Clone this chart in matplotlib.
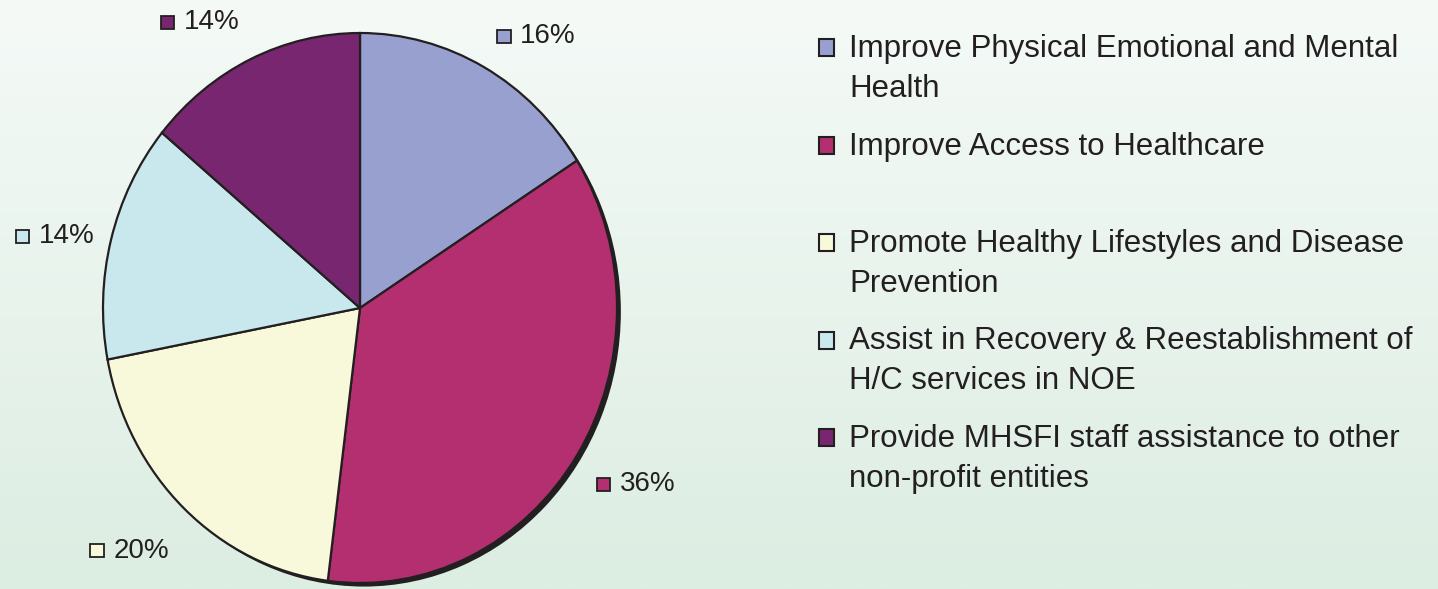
import numpy as np
import matplotlib
matplotlib.use("Agg")
import matplotlib.pyplot as plt
from matplotlib.patches import Rectangle
from matplotlib.offsetbox import DrawingArea, TextArea, HPacker, AnnotationBbox

plt.rcParams['font.family'] = ['Liberation Sans', 'DejaVu Sans']

# data
categories = [
    "Improve Physical Emotional and Mental\nHealth",
    "Improve Access to Healthcare",
    "Promote Healthy Lifestyles and Disease\nPrevention",
    "Assist in Recovery & Reestablishment of\nH/C services in NOE",
    "Provide MHSFI staff assistance to other\nnon-profit entities",
]
shares = [16, 36, 20, 14, 14]
pct_labels = ["16%", "36%", "20%", "14%", "14%"]
colors = ["#98a0d0", "#b32f6f", "#f8f8da", "#c9e8ee", "#78266f"]

# small nudges (pixels) for the data labels, excel "best fit" style
label_nudge = [(-2, 2), (-7, -11), (6, -18), (13, -5), (2, 7)]

edge = "#231f20"
W, H = 1438, 589
fig = plt.figure(figsize=(W / 100, H / 100), dpi=100)
px = 72 / fig.dpi  # pixels -> points

# background gradient
bg = fig.add_axes([0, 0, 1, 1], zorder=-10)
top = np.array([245, 250, 247]) / 255
bot = np.array([220, 237, 226]) / 255
t = np.linspace(0, 1, 256)[:, None]
grad = top[None, :] * (1 - t) + bot[None, :] * t
bg.imshow(grad[:, None, :], aspect='auto', extent=[0, 1, 0, 1])
bg.set_axis_off()

# pie (slightly taller than wide, like the original)
ax = fig.add_axes([103 / W, 6 / H, 514 / W, 550 / H])
ax.pie([1], colors=[edge], radius=1, center=(0.015, -0.013),
       wedgeprops=dict(linewidth=0))
wedges, _ = ax.pie(shares, colors=colors, startangle=90, counterclock=False,
                   wedgeprops=dict(edgecolor=edge, linewidth=1.6))
ax.set_aspect('auto')
ax.set_xlim(-1, 1)
ax.set_ylim(-1, 1)
ax.set_axis_off()

# data labels: small colour square + percentage
r_lab = 1.12
for w, lab, c, (nx, ny) in zip(wedges, pct_labels, colors, label_nudge):
    mid = np.deg2rad((w.theta1 + w.theta2) / 2)
    x, y = r_lab * np.cos(mid), r_lab * np.sin(mid)
    da = DrawingArea(11, 11, 0, 0)
    da.add_artist(Rectangle((0.5, 0.5), 9.5, 9.5, facecolor=c, edgecolor=edge, linewidth=1.3))
    ta = TextArea(lab, textprops=dict(fontsize=20, color="#231f20"))
    box = HPacker(children=[da, ta], align="center", pad=0, sep=6)
    ha = 0 if x >= 0 else 1
    ab = AnnotationBbox(box, (x, y), xybox=(nx * px, ny * px), boxcoords="offset points",
                        frameon=False, box_alignment=(ha, 0.5), annotation_clip=False)
    ax.add_artist(ab)

# legend on the right
lg = fig.add_axes([0, 0, 1, 1])
lg.set_xlim(0, W)
lg.set_ylim(H, 0)
lg.set_axis_off()
for i, (name, c) in enumerate(zip(categories, colors)):
    y0 = 47 + i * 97.5
    lg.add_patch(Rectangle((819, y0 - 8), 15, 17, facecolor=c, edgecolor=edge, linewidth=1.5))
    lg.text(849, y0 - 13, name, fontsize=22.5, color="#231f20", va='top', ha='left',
            linespacing=1.42)

fig.savefig("out.png", dpi=100)
